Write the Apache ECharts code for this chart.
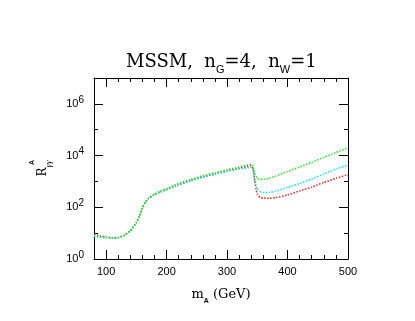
<!DOCTYPE html>
<html>
<head>
<meta charset="utf-8">
<script src="https://cdn.jsdelivr.net/npm/echarts@6/dist/echarts.min.js"></script>
<style>
  html, body { margin: 0; padding: 0; background: #fff; }
  #chart { width: 415px; height: 321px; }
</style>
</head>
<body>
<div id="chart"></div>
<script>
// m_A in GeV
const mA = [80, 90, 100, 110, 120, 130, 140, 150, 155, 160, 165, 170, 180, 190, 200, 220, 240, 260, 280, 300,
  320, 335, 340, 343, 346, 350, 355, 360, 370, 380, 400, 420, 440, 460, 480, 500]

const redR = [9.3, 7.9, 7.1, 6.6, 6.8, 8.1, 12.3, 25.7, 43.7, 93, 155, 214, 309, 389, 479, 741, 1070, 1480, 1950, 2510,
  3240, 3800, 3980, 3160, 1000, 316, 240, 229, 224, 234, 302, 427, 603, 912, 1320, 1820]
const cyanR = [7.6, 6.9, 6.6, 6.5, 6.6, 8.1, 12.3, 25.7, 43.7, 93, 155, 214, 309, 389, 479, 741, 1070, 1450, 1900, 2450,
  3020, 3390, 3470, 2820, 1000, 500, 398, 372, 380, 417, 589, 832, 1230, 1950, 2950, 4370]
const greenR = [8.3, 7.4, 6.9, 6.6, 6.8, 8.3, 12.6, 26, 45, 95, 158, 224, 331, 427, 525, 832, 1200, 1660, 2190, 2820,
  3630, 4370, 4570, 3980, 2000, 1320, 1200, 1200, 1320, 1580, 2400, 3630, 5500, 8500, 13200, 20000]

const xMajor = [100, 200, 300, 400, 500]
const yMajor = [1, 100, 10000, 1000000]
const yMinor = [10, 1000, 100000]

const pairs = (ys) => mA.map((x, i) => [x, ys[i]])

const chart = echarts.init(document.getElementById('chart'), null, { renderer: 'canvas' })

const sans = 'Liberation Sans'
const serif = 'DejaVu Serif'

const xBase = {
  type: 'value',
  min: 80,
  max: 500,
  splitLine: { show: false },
  axisLine: { show: true, lineStyle: { color: '#000', width: 1 } }
}
const yBase = {
  type: 'log',
  logBase: 10,
  min: 1,
  max: 10000000,
  splitLine: { show: false },
  axisLine: { show: true, lineStyle: { color: '#000', width: 1 } }
}

const lineSeries = (name, color, ys) => ({
  name,
  type: 'line',
  data: pairs(ys),
  showSymbol: false,
  symbol: 'none',
  smooth: 0.2,
  lineStyle: { color, width: 1.5, type: [1.5, 1.5] },
  animation: false
})

chart.setOption({
  animation: false,
  title: {
    text: 'MSSM,  n{sub|G}=4,  n{sub|W}=1',
    left: 121,
    top: 44,
    textStyle: {
      fontFamily: serif,
      fontSize: 18,
      fontWeight: 'normal',
      color: '#000',
      lineHeight: 26,
      rich: {
        sub: { fontFamily: sans, fontSize: 11, verticalAlign: 'bottom', lineHeight: 26, padding: [8, 0, 0, 0] }
      }
    }
  },
  grid: { left: 94, right: 67, top: 78, bottom: 62 },
  xAxis: [
    Object.assign({}, xBase, {
      position: 'bottom',
      axisTick: { show: true, inside: true, length: 9, customValues: xMajor, lineStyle: { color: '#000' } },
      axisLabel: { customValues: xMajor, fontFamily: sans, fontSize: 11, color: '#000', margin: 7 },
      name: 'm{sub|A} (GeV)',
      nameLocation: 'middle',
      nameGap: 26,
      nameTextStyle: {
        fontFamily: serif, fontSize: 13, color: '#000', lineHeight: 20,
        rich: { sub: { fontFamily: sans, fontSize: 7, fontWeight: 'bold', verticalAlign: 'bottom', lineHeight: 20, padding: [4, 0, 0, 0] } }
      }
    }),
    Object.assign({}, xBase, {
      position: 'bottom',
      interval: 20,
      axisLine: { show: false },
      axisTick: { show: true, inside: true, length: 4, lineStyle: { color: '#000' } },
      axisLabel: { show: false }
    }),
    Object.assign({}, xBase, {
      position: 'top',
      axisTick: { show: true, inside: true, length: 9, customValues: xMajor, lineStyle: { color: '#000' } },
      axisLabel: { show: false }
    }),
    Object.assign({}, xBase, {
      position: 'top',
      interval: 20,
      axisLine: { show: false },
      axisTick: { show: true, inside: true, length: 4, lineStyle: { color: '#000' } },
      axisLabel: { show: false }
    })
  ],
  yAxis: [
    Object.assign({}, yBase, {
      position: 'left',
      axisTick: { show: true, inside: true, length: 9, customValues: yMajor, lineStyle: { color: '#000' } },
      axisLabel: {
        customValues: yMajor,
        margin: 10,
        fontFamily: sans,
        fontSize: 11,
        color: '#000',
        lineHeight: 18,
        formatter: (v) => '10{sup|' + Math.round(Math.log10(v)) + '}',
        rich: { sup: { fontFamily: sans, fontSize: 10, verticalAlign: 'top', lineHeight: 18, padding: [0, 0, 5, 0] } }
      },
      name: 'R{sub|γγ}',
      nameLocation: 'middle',
      nameGap: 41,
      nameTextStyle: {
        fontFamily: serif, fontSize: 12, color: '#000', lineHeight: 20,
        rich: { sub: { fontFamily: 'Liberation Serif', fontStyle: 'italic', fontSize: 9, verticalAlign: 'bottom', lineHeight: 20, padding: [3, 0, 0, 0] } }
      }
    }),
    Object.assign({}, yBase, {
      position: 'left',
      axisLine: { show: false },
      axisTick: { show: true, inside: true, length: 4, customValues: yMinor, lineStyle: { color: '#000' } },
      axisLabel: { show: false },
      name: '{sup|A}',
      nameLocation: 'middle',
      nameGap: 45,
      nameTextStyle: {
        color: '#000', lineHeight: 20, padding: [0, 0, 0, 12],
        rich: { sup: { fontFamily: sans, fontSize: 7, fontWeight: 'bold', verticalAlign: 'top', lineHeight: 20, padding: [0, 0, 8, 0] } }
      }
    }),
    Object.assign({}, yBase, {
      position: 'right',
      axisTick: { show: true, inside: true, length: 9, customValues: yMajor, lineStyle: { color: '#000' } },
      axisLabel: { show: false }
    }),
    Object.assign({}, yBase, {
      position: 'right',
      axisLine: { show: false },
      axisTick: { show: true, inside: true, length: 4, customValues: yMinor, lineStyle: { color: '#000' } },
      axisLabel: { show: false }
    })
  ],
  series: [
    lineSeries('red', '#ff2020', redR),
    lineSeries('cyan', '#00e8f0', cyanR),
    lineSeries('green', '#20e020', greenR)
  ]
})
</script>
</body>
</html>
